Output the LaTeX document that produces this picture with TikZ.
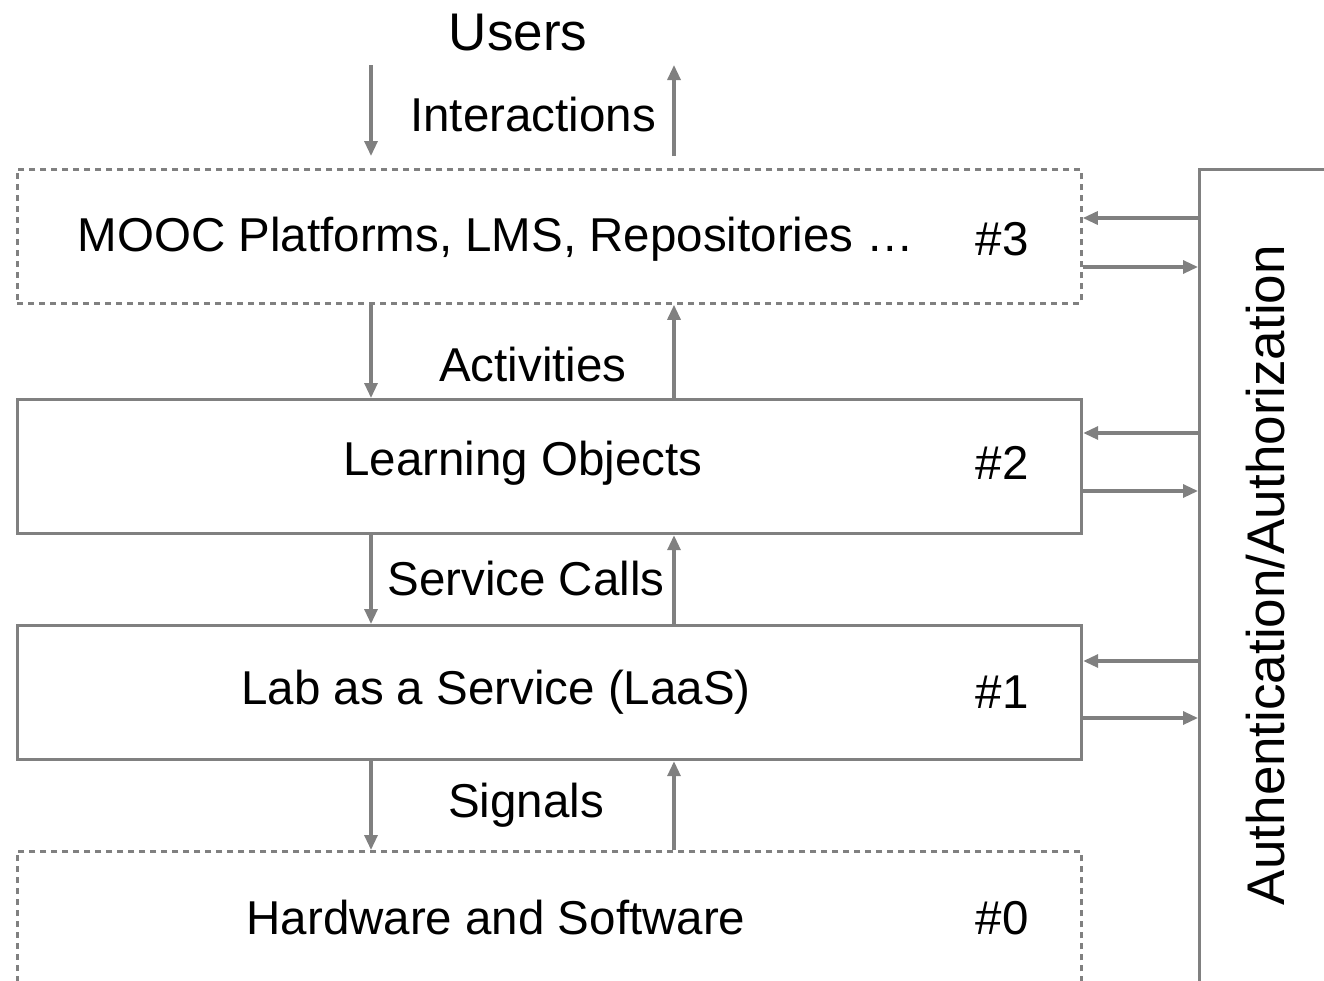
\documentclass[tikz,border=0pt]{standalone}
\usepackage{fontspec}
\setmainfont{Liberation Sans}
\usetikzlibrary{arrows.meta,calc}
\begin{document}
\begin{tikzpicture}[x=1pt,y=-1pt,
  lay/.style={draw=linegray,line width=3.2pt,rectangle,minimum width=1064pt,minimum height=134pt,inner sep=0pt,anchor=north west},
  dlay/.style={lay,line width=2.8pt,dash pattern=on 6pt off 5pt},
  lbl/.style={inner sep=0pt,font=\fontsize{47.5}{56}\selectfont,text=black},
  big/.style={lbl,font=\fontsize{53}{62}\selectfont},
  arr/.style={draw=linegray,line width=3.2pt,-{Triangle[length=15pt,width=13pt]}},
]
\definecolor{linegray}{RGB}{128,128,128}
\useasboundingbox (0,0) rectangle (1324,980);
\begin{scope}
\clip (0,0) rectangle (1324,980);
% layers
\node[dlay] (b3) at (16,168) {};
\node[lay]  (b2) at (16,398) {};
\node[lay]  (b1) at (16,624) {};
\node[dlay,minimum height=200pt] (b0) at (16,850) {};
% auth box
\node[draw=linegray,line width=3.2pt,rectangle,minimum width=300pt,minimum height=900pt,anchor=north west,inner sep=0pt] (auth) at (1198,168) {};
\node[big,rotate=90] (authtxt) at (1266,575) {Authentication/Authorization};
% texts
\node[big] (users) at (518,33) {Users};
\node[lbl] (t3) at (496,239) {MOOC Platforms, LMS, Repositories …};
\node[lbl] (n3) at (1002,239) {\#3};
\node[lbl] (t2) at (523,463) {Learning Objects};
\node[lbl] (n2) at (1002,463) {\#2};
\node[lbl] (t1) at (496,692) {Lab as a Service (LaaS)};
\node[lbl] (n1) at (1002,692) {\#1};
\node[lbl] (t0) at (496,918) {Hardware and Software};
\node[lbl] (n0) at (1002,918) {\#0};
% connector labels
\node[lbl] (l3) at (533,115) {Interactions};
\node[lbl] (l2) at (533,365) {Activities};
\node[lbl] (l1) at (526,579) {Service Calls};
\node[lbl] (l0) at (526,805) {Signals};
% columns
\coordinate (lx) at (371,0);
\coordinate (rx) at (674,0);
\coordinate (utop) at (0,65);
% vertical arrows
\draw[arr,shorten >=12pt] (utop -| lx) -- (b3.north -| lx);
\draw[arr,shorten <=12pt] (b3.north -| rx) -- (utop -| rx);
\draw[arr] (b3.south -| lx) -- (b2.north -| lx);
\draw[arr] (b2.north -| rx) -- (b3.south -| rx);
\draw[arr] (b2.south -| lx) -- (b1.north -| lx);
\draw[arr] (b1.north -| rx) -- (b2.south -| rx);
\draw[arr] (b1.south -| lx) -- (b0.north -| lx);
\draw[arr] (b0.north -| rx) -- (b1.south -| rx);
% horizontal arrows
\coordinate (h3a) at (0,218); \coordinate (h3b) at (0,267);
\coordinate (h2a) at (0,433); \coordinate (h2b) at (0,491);
\coordinate (h1a) at (0,661); \coordinate (h1b) at (0,718);
\draw[arr] (auth.west |- h3a) -- (b3.east |- h3a);
\draw[arr] (b3.east |- h3b) -- (auth.west |- h3b);
\draw[arr] (auth.west |- h2a) -- (b2.east |- h2a);
\draw[arr] (b2.east |- h2b) -- (auth.west |- h2b);
\draw[arr] (auth.west |- h1a) -- (b1.east |- h1a);
\draw[arr] (b1.east |- h1b) -- (auth.west |- h1b);
\end{scope}
\end{tikzpicture}
\end{document}
